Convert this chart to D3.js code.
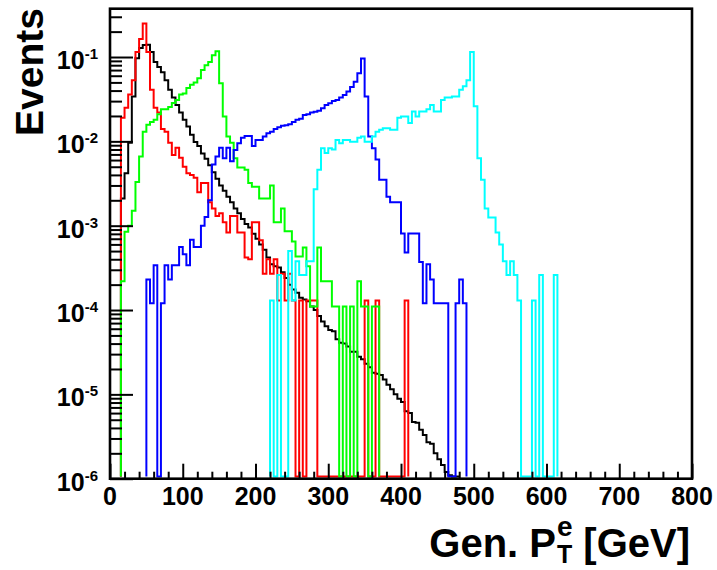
<!DOCTYPE html>
<html lang="en">
<head>
    <meta charset="UTF-8">
    <title>Gen. PT electron spectra</title>
    <script src="https://d3js.org/d3.v7.min.js"></script>
    <style>
        body { margin: 0; background: #fff; }
        svg { display: block; font-family: "Liberation Sans", Arial, Helvetica, sans-serif; font-weight: bold; }
        .hist { fill: none; stroke-width: 2px; }
        .tick line { stroke: #000; stroke-width: 2px; }
    </style>
</head>
<body>
<svg id="chart" width="717" height="570"></svg>
<script>
    // Histogram binning (GeV)
    const binWidth = 5;

    // Per-sample bin contents, first bin starting at *Start
    const blackStart = 15;
    const blackVals = [2.1e-3, 4.2e-3, 9.6e-3, 0.034, 0.097, 0.128, 0.139, 0.14, 0.115, 0.087,
        0.076, 0.066, 0.053, 0.041, 0.033, 0.027, 0.022, 0.018, 0.015, 0.012,
        9.8e-3, 8.8e-3, 7.2e-3, 6.2e-3, 5.2e-3, 4.3e-3, 3.6e-3, 3.0e-3, 2.6e-3, 2.2e-3,
        1.9e-3, 1.6e-3, 1.4e-3, 1.2e-3, 1.05e-3, 9.5e-4, 8.0e-4, 7.0e-4, 6.0e-4, 5.2e-4,
        4.2e-4, 3.5e-4, 3.3e-4, 3.2e-4, 2.8e-4, 2.4e-4, 2.0e-4, 1.75e-4, 1.6e-4, 1.4e-4,
        1.33e-4, 1.27e-4, 1.1e-4, 1.0e-4, 8.5e-5, 7.3e-5, 6.4e-5, 5.8e-5, 5.6e-5, 4.5e-5,
        4.1e-5, 4.0e-5, 3.7e-5, 3.2e-5, 3.2e-5, 2.8e-5, 2.6e-5, 2.3e-5, 2.1e-5, 1.8e-5,
        1.75e-5, 1.7e-5, 1.5e-5, 1.3e-5, 1.15e-5, 1.0e-5, 8.9e-6, 8.1e-6, 6.3e-6, 6.0e-6,
        4.7e-6, 4.6e-6, 3.8e-6, 3.3e-6, 2.7e-6, 2.6e-6, 2.0e-6, 1.7e-6, 1.45e-6, 1.2e-6,
        1.1e-6, 1.05e-6, 1.02e-6];

    const redStart = 15;
    const redVals = [0.019, 0.025, 0.036, 0.053, 0.115, 0.163, 0.25, 0.115, 0.041, 0.025,
        0.022, 0.014, 0.013, 9.6e-3, 6.9e-3, 8.4e-3, 6.4e-3, 5.0e-3, 4.2e-3, 4.0e-3,
        3.7e-3, 2.5e-3, 3.2e-3, 3.2e-3, 1.9e-3, 1.6e-3, 1.3e-3, 1.4e-3, 1.1e-3, 8.3e-4,
        1.3e-3, 1.3e-3, 8.3e-4, 8.3e-4, 4.2e-4, 4.0e-4, 1.1e-3, 1.1e-3, 6.7e-4, 2.7e-4,
        4.0e-4, 2.7e-4, 4.0e-4, 1.3e-4, 2.7e-4, 1.3e-4, 2.7e-4, 1.3e-4, 0, 1.3e-4,
        0, 1.3e-4, 1.3e-4, 1.3e-4, 0, 0, 0, 0, 0, 0,
        0, 0, 0, 0, 0, 0, 0, 1.3e-4, 0, 0,
        1.3e-4, 0, 0, 0, 0, 0, 0, 0, 1.3e-4];

    const greenStart = 15;
    const greenVals = [2.2e-4, 8.5e-4, 1.0e-3, 1.5e-3, 3.3e-3, 6.6e-3, 0.013, 0.0157, 0.017, 0.018,
        0.021, 0.024, 0.024, 0.0256, 0.0285, 0.031, 0.036, 0.037, 0.043, 0.047,
        0.05, 0.056, 0.07, 0.08, 0.087, 0.105, 0.117, 0.049, 0.0197, 0.0114,
        9.6e-3, 6.3e-3, 4.9e-3, 4.9e-3, 4.6e-3, 3.2e-3, 2.9e-3, 2.9e-3, 2.1e-3, 2.1e-3,
        2.1e-3, 3.0e-3, 1.1e-3, 1.1e-3, 1.6e-3, 8.6e-4, 8.6e-4, 6.5e-4, 4.3e-4, 4.3e-4,
        5.5e-4, 3.3e-4, 1.1e-4, 1.1e-4, 5.5e-4, 2.2e-4, 2.2e-4, 2.2e-4, 1.1e-4, 1.1e-4,
        0, 1.1e-4, 0, 1.1e-4, 0, 2.2e-4, 1.1e-4, 1.1e-4, 0, 1.1e-4,
        1.1e-4];

    const blueStart = 50;
    const blueVals = [2.3e-4, 1.2e-4, 3.4e-4, 0, 1.2e-4, 3.4e-4, 2.3e-4, 3.4e-4, 3.4e-4, 5.6e-4,
        4.6e-4, 3.4e-4, 6.8e-4, 5.6e-4, 5.6e-4, 1.0e-3, 1.27e-3, 2.0e-3, 5.3e-3, 6.6e-3,
        8.4e-3, 6.3e-3, 8.4e-3, 5.8e-3, 7.9e-3, 9.5e-3, 0.011, 0.0116, 0.0116, 8.8e-3,
        0.0104, 0.0104, 0.0114, 0.0125, 0.013, 0.014, 0.0147, 0.0153, 0.0155, 0.016,
        0.017, 0.018, 0.0185, 0.0206, 0.021, 0.022, 0.0225, 0.023, 0.0247, 0.027,
        0.0283, 0.03, 0.031, 0.033, 0.0355, 0.039, 0.044, 0.051, 0.064, 0.096,
        0.034, 0.0114, 8.3e-3, 6.1e-3, 3.5e-3, 3.5e-3, 2.2e-3, 1.9e-3, 1.9e-3, 1.9e-3,
        8.1e-4, 4.8e-4, 8.1e-4, 8.1e-4, 8.1e-4, 3.7e-4, 1.2e-4, 3.5e-4, 2.3e-4, 1.2e-4,
        1.2e-4, 1.2e-4, 1.2e-4, 0, 0, 1.2e-4, 2.3e-4, 1.2e-4];

    const cyanStart = 220;
    const cyanVals = [1.3e-4, 0, 2.6e-4, 0, 0, 5.0e-4, 1.3e-4, 3.8e-4, 2.6e-4, 2.6e-4,
        3.8e-4, 3.8e-4, 2.7e-3, 4.6e-3, 8.3e-3, 7.3e-3, 8.3e-3, 8.0e-3, 0.0104, 9.5e-3,
        0.0104, 0.0104, 9.9e-3, 9.9e-3, 0.011, 0.0114, 9.9e-3, 9.9e-3, 0.0114, 0.013,
        0.0137, 0.0143, 0.0143, 0.0137, 0.0137, 0.019, 0.0197, 0.0197, 0.0165, 0.0226,
        0.0197, 0.0226, 0.0226, 0.024, 0.027, 0.0226, 0.0226, 0.031, 0.033, 0.033,
        0.034, 0.034, 0.041, 0.045, 0.053, 0.115, 0.026, 6.3e-3, 3.5e-3, 1.6e-3,
        1.25e-3, 1.25e-3, 8.3e-4, 6.0e-4, 3.8e-4, 2.6e-4, 3.8e-4, 2.6e-4, 1.3e-4, 0,
        0, 0, 1.3e-4, 0, 2.6e-4, 0, 0, 0, 2.6e-4];

    const samples = [
        { name: "black", color: "#000000", start: blackStart, vals: blackVals },
        { name: "red", color: "#ff0000", start: redStart, vals: redVals },
        { name: "green", color: "#00ff00", start: greenStart, vals: greenVals },
        { name: "blue", color: "#0000ff", start: blueStart, vals: blueVals },
        { name: "cyan", color: "#00ffff", start: cyanStart, vals: cyanVals }
    ];

    const xMajorTicks = [0, 100, 200, 300, 400, 500, 600, 700, 800];
    const yMajorTicks = [1e-6, 1e-5, 1e-4, 1e-3, 1e-2, 1e-1];

    // Frame in pixels
    const frame = { left: 110, right: 692, top: 8.7, bottom: 478.7 };

    const svg = d3.select("#chart");

    const xScale = d3.scaleLinear().domain([0, 800]).range([frame.left, frame.right]);
    const yScale = d3.scaleLog().domain([1e-6, 0.374]).range([frame.bottom, frame.top]);
    const zeroY = frame.bottom - 2.2;

    svg.append("defs").append("clipPath").attr("id", "clip")
        .append("rect")
        .attr("x", frame.left).attr("y", frame.top)
        .attr("width", frame.right - frame.left)
        .attr("height", frame.bottom - frame.top);

    // step histogram points
    function stepPoints(s) {
        const pts = [[s.start, 0]];
        s.vals.forEach((v, i) => pts.push([s.start + i * binWidth, v]));
        const end = s.start + s.vals.length * binWidth;
        pts.push([end, s.vals[s.vals.length - 1]]);
        pts.push([end, 0]);
        return pts;
    }

    const line = d3.line()
        .x(d => xScale(d[0]))
        .y(d => d[1] > 0 ? Math.min(yScale(d[1]), zeroY) : zeroY)
        .curve(d3.curveStepAfter);

    svg.append("g")
        .attr("clip-path", "url(#clip)")
        .selectAll("path")
        .data(samples)
        .enter()
        .append("path")
        .attr("class", "hist")
        .attr("stroke", d => d.color)
        .attr("d", d => line(stepPoints(d)));

    // y axis ticks (inside frame)
    const yMinor = yScale.ticks().filter(v => !yMajorTicks.some(m => Math.abs(v / m - 1) < 1e-6));
    svg.append("g")
        .attr("transform", `translate(${frame.left},0)`)
        .call(d3.axisRight(yScale).tickValues(yMinor).tickSize(12).tickFormat(""))
        .call(g => g.select(".domain").remove());
    svg.append("g")
        .attr("transform", `translate(${frame.left},0)`)
        .call(d3.axisRight(yScale).tickValues(yMajorTicks).tickSize(23).tickFormat(""))
        .call(g => g.select(".domain").remove());

    // x axis ticks (inside frame)
    const xMinor = d3.range(0, 801, 20).filter(v => v % 100 !== 0);
    svg.append("g")
        .attr("transform", `translate(0,${frame.bottom})`)
        .call(d3.axisTop(xScale).tickValues(xMinor).tickSize(7).tickFormat(""))
        .call(g => g.select(".domain").remove());
    svg.append("g")
        .attr("transform", `translate(0,${frame.bottom})`)
        .call(d3.axisTop(xScale).tickValues(xMajorTicks).tickSize(15).tickFormat(""))
        .call(g => g.select(".domain").remove());

    // frame
    svg.append("rect")
        .attr("x", frame.left).attr("y", frame.top)
        .attr("width", frame.right - frame.left)
        .attr("height", frame.bottom - frame.top)
        .attr("fill", "none")
        .attr("stroke", "#000")
        .attr("stroke-width", 2.6);

    // x tick labels
    svg.append("g").selectAll("text")
        .data(xMajorTicks)
        .enter()
        .append("text")
        .attr("x", d => xScale(d))
        .attr("y", 505)
        .attr("text-anchor", "middle")
        .style("font-size", "25px")
        .text(d => d);

    // y tick labels 10^n
    const yLabels = svg.append("g").selectAll("text")
        .data(yMajorTicks)
        .enter()
        .append("text")
        .attr("x", 98)
        .attr("y", d => yScale(d) + 12)
        .attr("text-anchor", "end")
        .style("font-size", "25px");
    yLabels.append("tspan").text("10");
    yLabels.append("tspan")
        .attr("dy", -10)
        .style("font-size", "15px")
        .text(d => Math.round(Math.log10(d)));

    // axis titles
    svg.append("text")
        .attr("transform", "translate(43,8) rotate(-90)")
        .attr("text-anchor", "end")
        .style("font-size", "39px")
        .text("Events");

    svg.append("text")
        .attr("x", 556).attr("y", 557)
        .attr("text-anchor", "end")
        .style("font-size", "40px")
        .text("Gen. P");
    svg.append("text")
        .attr("x", 557).attr("y", 536)
        .style("font-size", "28px")
        .text("e");
    svg.append("text")
        .attr("x", 557).attr("y", 563)
        .style("font-size", "25px")
        .text("T");
    svg.append("text")
        .attr("x", 690).attr("y", 557)
        .attr("text-anchor", "end")
        .style("font-size", "40px")
        .text("[GeV]");
</script>
</body>
</html>
